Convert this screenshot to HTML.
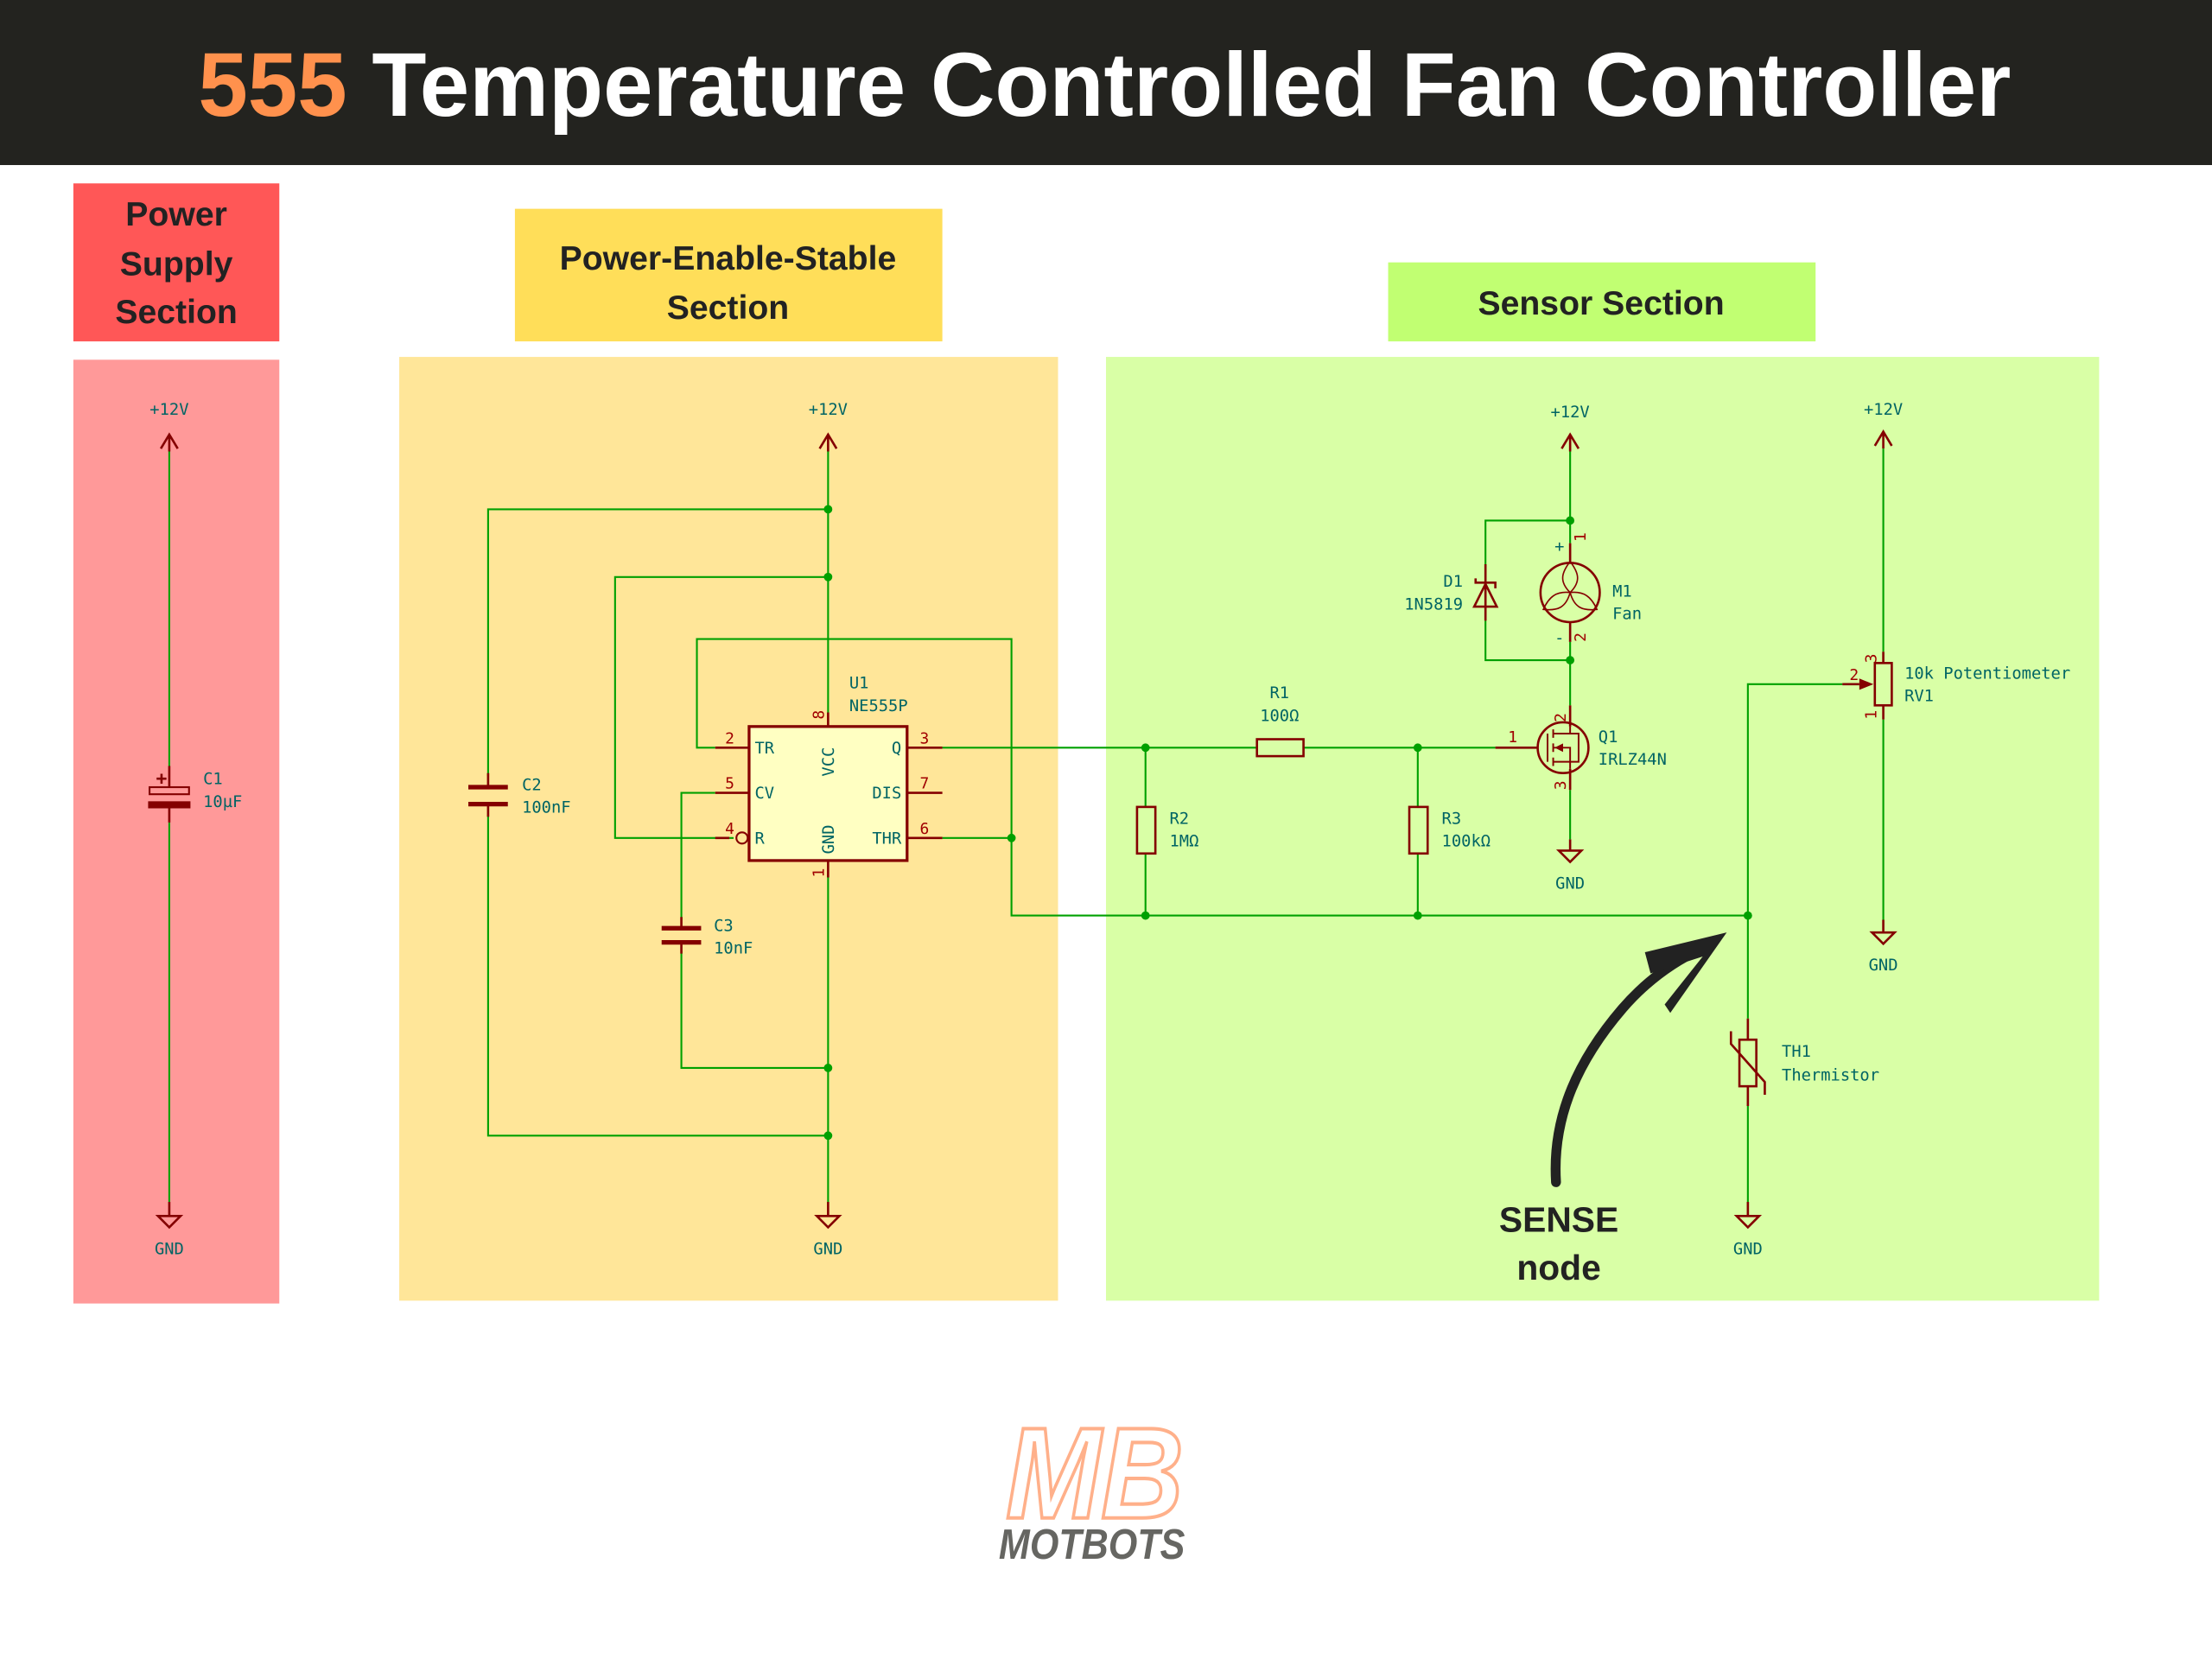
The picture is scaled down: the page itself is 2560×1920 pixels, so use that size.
<!DOCTYPE html>
<html><head><meta charset="utf-8"><style>
html,body{margin:0;padding:0;background:#fff;}
svg{display:block;}
.w{stroke:#00a000;stroke-width:1.3;fill:none;}
.c{stroke:#840000;stroke-width:1.6;fill:none;}
.t{font-family:"DejaVu Sans Mono","Liberation Mono",monospace;font-size:11.5px;fill:#006464;}
.p{font-family:"DejaVu Sans Mono","Liberation Mono",monospace;font-size:11px;fill:#a00000;}
.h{font-family:"Liberation Sans",sans-serif;font-weight:bold;font-size:24px;fill:#222;text-anchor:middle;}
</style></head><body>
<svg width="2560" height="1920" viewBox="0 0 1568 1176" xmlns="http://www.w3.org/2000/svg">
<rect width="1568" height="1176" fill="#fff"/>
<rect width="1568" height="117" fill="#23231f"/>
<text x="783" y="82" font-family="Liberation Sans,sans-serif" font-weight="bold" font-size="64" fill="#fff" text-anchor="middle" textLength="1285" lengthAdjust="spacingAndGlyphs"><tspan fill="#ff914d">555</tspan> Temperature Controlled Fan Controller</text>

<rect x="52" y="130" width="146" height="112" fill="#ff5757"/>
<text class="h" x="125" y="160">Power</text><text class="h" x="125" y="195">Supply</text><text class="h" x="125" y="229">Section</text>
<rect x="52" y="255" width="146" height="669" fill="#ff9999"/>
<rect x="365" y="148" width="303" height="94" fill="#ffde59"/>
<text class="h" x="516" y="191">Power-Enable-Stable</text><text class="h" x="516" y="226">Section</text>
<rect x="283" y="253" width="467" height="669" fill="#ffe699"/>
<rect x="984" y="186" width="303" height="56" fill="#c1ff72"/>
<text class="h" x="1135" y="223">Sensor Section</text>
<rect x="784" y="253" width="704" height="669" fill="#d9ffa6"/>

<g>
<text class="t" x="120" y="294" text-anchor="middle">+12V</text>
<path class="c" d="M120 308v12M114 318l6-10 6 10"/>
<text class="t" x="587" y="294" text-anchor="middle">+12V</text>
<path class="c" d="M587 308v12M581 318l6-10 6 10"/>
<text class="t" x="1113" y="296" text-anchor="middle">+12V</text>
<path class="c" d="M1113 308v12M1107 318l6-10 6 10"/>
<text class="t" x="1335" y="294" text-anchor="middle">+12V</text>
<path class="c" d="M1335 306v12M1329 316l6-10 6 10"/>
</g>
<g>
<path class="c" d="M120 852v10M112 862h16l-8 8z"/><text class="t" x="120" y="889" text-anchor="middle">GND</text>
<path class="c" d="M587 852v10M579 862h16l-8 8z"/><text class="t" x="587" y="889" text-anchor="middle">GND</text>
<path class="c" d="M1239 852v10M1231 862h16l-8 8z"/><text class="t" x="1239" y="889" text-anchor="middle">GND</text>
<path class="c" d="M1113 595v8M1105 603h16l-8 8z"/><text class="t" x="1113" y="630" text-anchor="middle">GND</text>
<path class="c" d="M1335 652v9M1327 661h16l-8 8z"/><text class="t" x="1335" y="688" text-anchor="middle">GND</text>
</g>

<path class="w" d="M120 320V543M120 583V852"/>
<path class="c" d="M120 543v15M120 572v11M111 552h7M114.5 548.5v7"/>
<rect x="106" y="558" width="28" height="5" fill="none" stroke="#840000" stroke-width="1.3"/>
<rect x="105" y="568" width="30" height="5" fill="#840000"/>
<text class="t" x="144" y="556">C1</text><text class="t" x="144" y="572">10µF</text>

<path class="w" d="M587 320V505M587 620V852M587 361H346V550M346 578V805H587M587 409H436V594H520M507 530H494V453H717V649H1239M668 594H717M668 530H891M924 530H1060M507 562H483V652M483 674V757H587"/>
<path d="M332 558h28M332 570h28M469 658h28M469 668h28" style="stroke:#840000;stroke-width:3.2;fill:none"/>
<path class="c" d="M346 548v10M346 570v9M483 650v8M483 668v8"/>
<text class="t" x="370" y="560">C2</text><text class="t" x="370" y="576">100nF</text>
<text class="t" x="506" y="660">C3</text><text class="t" x="506" y="676">10nF</text>
<rect x="531" y="515" width="112" height="95" fill="#ffffc2" stroke="#840000" stroke-width="2"/>
<path class="c" d="M587 505v10M587 610v12M507 530h24M507 562h24M507 594h10M643 530h25M643 562h25M643 594h25"/>
<circle cx="526" cy="594" r="4" fill="none" stroke="#840000" stroke-width="1.3"/>
<text class="t" x="535" y="534">TR</text><text class="t" x="535" y="566">CV</text><text class="t" x="535" y="598">R</text>
<text class="t" x="639" y="534" text-anchor="end">Q</text><text class="t" x="639" y="566" text-anchor="end">DIS</text><text class="t" x="639" y="598" text-anchor="end">THR</text>
<text class="t" transform="translate(591,540) rotate(-90)" text-anchor="middle">VCC</text>
<text class="t" transform="translate(591,595) rotate(-90)" text-anchor="middle">GND</text>
<text class="p" x="514" y="527">2</text><text class="p" x="514" y="559">5</text><text class="p" x="514" y="591">4</text>
<text class="p" x="652" y="527">3</text><text class="p" x="652" y="559">7</text><text class="p" x="652" y="591">6</text>
<text class="p" transform="translate(584,510) rotate(-90)">8</text>
<text class="p" transform="translate(584,622) rotate(-90)">1</text>
<text class="t" x="602" y="488">U1</text><text class="t" x="602" y="504">NE555P</text>

<g fill="#00a000">
<circle cx="587" cy="361" r="3"/><circle cx="587" cy="409" r="3"/><circle cx="587" cy="757" r="3"/><circle cx="587" cy="805" r="3"/>
<circle cx="717" cy="594" r="3"/><circle cx="812" cy="530" r="3"/><circle cx="1005" cy="530" r="3"/>
<circle cx="812" cy="649" r="3"/><circle cx="1005" cy="649" r="3"/><circle cx="1239" cy="649" r="3"/>
<circle cx="1113" cy="369" r="3"/><circle cx="1113" cy="468" r="3"/>
</g>

<rect x="891" y="524" width="33" height="12" fill="none" stroke="#840000" stroke-width="1.6"/>
<text class="t" x="907" y="495" text-anchor="middle">R1</text><text class="t" x="907" y="511" text-anchor="middle">100Ω</text>
<path class="w" d="M812 530V572M812 605V649M1005 530V572M1005 605V649"/>
<rect x="806" y="572" width="13" height="33" fill="none" stroke="#840000" stroke-width="1.6"/>
<rect x="999" y="572" width="13" height="33" fill="none" stroke="#840000" stroke-width="1.6"/>
<text class="t" x="829" y="584">R2</text><text class="t" x="829" y="600">1MΩ</text>
<text class="t" x="1022" y="584">R3</text><text class="t" x="1022" y="600">100kΩ</text>

<path class="w" d="M1113 320V385M1113 455V500M1113 560V595M1113 369H1053V400M1053 440V468H1113"/>
<path class="c" d="M1113 385v14M1113 441v14M1053 400v40"/>
<circle cx="1113" cy="420" r="21" fill="none" stroke="#840000" stroke-width="1.6"/>
<path d="M1113 420c-8-8-6-14 0-22c6 8 8 14 0 22zM1113 420c-3 11-9 13-19 12c4-9 9-13 19-12zM1113 420c3 11 9 13 19 12c-4-9-9-13-19-12z" fill="none" stroke="#840000" stroke-width="1"/>
<path class="c" d="M1045 430h16l-8-16zM1046 410v3h14v4"/>
<text class="t" x="1037" y="416" text-anchor="end">D1</text><text class="t" x="1037" y="432" text-anchor="end">1N5819</text>
<text class="t" x="1143" y="423">M1</text><text class="t" x="1143" y="439">Fan</text>
<text class="t" x="1102" y="391">+</text><text class="t" x="1102" y="456">-</text>
<text class="p" transform="translate(1124,384) rotate(-90)">1</text>
<text class="p" transform="translate(1124,455) rotate(-90)">2</text>

<path class="c" d="M1060 530h30M1113 500v15M1113 545v15"/>
<circle cx="1108" cy="530" r="18" fill="none" stroke="#840000" stroke-width="1.6"/>
<path d="M1097 520v20M1101 517v6M1101 527v6M1101 537v6M1101 520h12M1101 540h12M1113 515v5M1113 540v5M1101 530h12v10M1113 520h6v20h-6" style="stroke:#840000;stroke-width:1.2;fill:none"/>
<path d="M1102 530l6-3v6z" fill="#840000"/>
<text class="p" x="1069" y="526">1</text>
<text class="p" transform="translate(1110,512) rotate(-90)">2</text>
<text class="p" transform="translate(1110,560) rotate(-90)">3</text>
<text class="t" x="1133" y="526">Q1</text><text class="t" x="1133" y="542">IRLZ44N</text>

<path class="w" d="M1335 318V462M1335 510V652M1239 649V485H1306M1239 649V722M1239 784V852"/>
<path class="c" d="M1335 462v8M1335 500v10M1306 485h12M1239 722v15M1239 770v14"/>
<rect x="1329" y="470" width="12" height="30" fill="none" stroke="#840000" stroke-width="1.6"/>
<path d="M1318 481l10 4-10 4z" fill="#840000"/>
<text class="p" x="1311" y="482">2</text>
<text class="p" transform="translate(1330,470) rotate(-90)">3</text>
<text class="p" transform="translate(1330,510) rotate(-90)">1</text>
<text class="t" x="1350" y="481">10k Potentiometer</text><text class="t" x="1350" y="497">RV1</text>

<rect x="1233" y="737" width="12" height="33" fill="none" stroke="#840000" stroke-width="1.6"/>
<path class="c" d="M1227 731v9l24 27v9"/>
<text class="t" x="1263" y="749">TH1</text><text class="t" x="1263" y="766">Thermistor</text>

<path d="M1103 838C1100 790 1120 750 1150 715C1170 692 1190 680 1205 673" fill="none" stroke="#222" stroke-width="7" stroke-linecap="round"/>
<path d="M1166 675L1224 661L1184 718L1180 712L1207 678L1170 690z" fill="#222"/>
<text x="1105" y="873" font-family="Liberation Sans,sans-serif" font-weight="bold" font-size="25" fill="#222" text-anchor="middle">SENSE</text>
<text x="1105" y="907" font-family="Liberation Sans,sans-serif" font-weight="bold" font-size="25" fill="#222" text-anchor="middle">node</text>

<text x="776" y="1076" font-family="Liberation Sans,sans-serif" font-weight="bold" font-style="italic" font-size="92" fill="none" stroke="#ffb08a" stroke-width="2.5" text-anchor="middle" textLength="126" lengthAdjust="spacingAndGlyphs">MB</text>
<text x="774" y="1105" font-family="Liberation Sans,sans-serif" font-weight="bold" font-style="italic" font-size="30" fill="#666662" text-anchor="middle" textLength="132" lengthAdjust="spacingAndGlyphs">MOTBOTS</text>
</svg>
</body></html>
